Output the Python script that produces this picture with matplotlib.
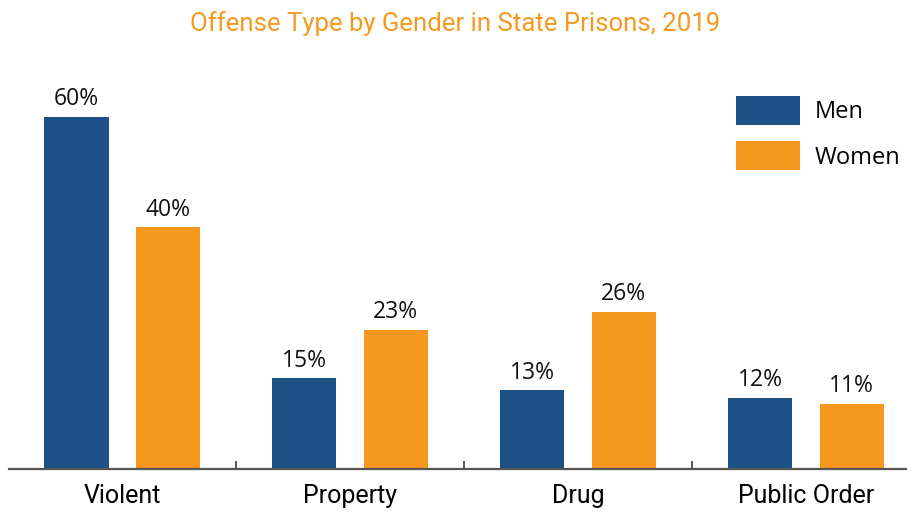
import matplotlib
matplotlib.use("Agg")
import matplotlib.pyplot as plt
import numpy as np

categories = ["Violent", "Property", "Drug", "Public Order"]
men = [58.3, 15.0, 13.0, 11.8]
women = [40.0, 23.0, 26.0, 10.8]
men_labels = ["60%", "15%", "13%", "12%"]
women_labels = ["40%", "23%", "26%", "11%"]

blue = "#1F5189"
orange = "#F7991E"

fig = plt.figure(figsize=(9.07, 5.16), dpi=100)
ax = fig.add_axes([9 / 907, 47 / 516, 898 / 907, 408 / 516])

x = np.arange(len(categories))
w = 0.281
off = 0.2
b1 = ax.bar(x - off, men, width=w, color=blue, label="Men")
b2 = ax.bar(x + off, women, width=w, color=orange, label="Women")

for bars, labs in ((b1, men_labels), (b2, women_labels)):
    for r, t in zip(bars, labs):
        ax.annotate(t, (r.get_x() + r.get_width() / 2, r.get_height()),
                    xytext=(0, 4), textcoords="offset points",
                    ha="center", va="bottom", fontsize=16.5,
                    family=["Open Sans", "DejaVu Sans"], color="#111111")

ax.set_xlim(-0.496, 3.443)
ax.set_ylim(0, 67.5)
ax.set_yticks([])
for s in ("top", "right", "left"):
    ax.spines[s].set_visible(False)
ax.spines["bottom"].set_color("#555555")
ax.spines["bottom"].set_linewidth(1.6)

ax.set_xticks(x)
ax.set_xticklabels(categories, fontsize=18, family=["Roboto", "DejaVu Sans"])
ax.tick_params(axis="x", which="major", length=0, pad=11)
ax.set_xticks([0.5, 1.5, 2.5], minor=True)
ax.tick_params(axis="x", which="minor", direction="in", length=6,
               width=1.4, color="#555555")

ax.legend(loc="upper right", bbox_to_anchor=(900 / 907, 1 - 96 / 516),
          bbox_transform=fig.transFigure, frameon=False, borderpad=0,
          borderaxespad=0, handlelength=2.7, handleheight=1.52,
          labelspacing=0.68, handletextpad=0.62,
          prop={"family": ["Open Sans", "DejaVu Sans"], "size": 17})

fig.text(0.502, 0.955, "Offense Type by Gender in State Prisons, 2019",
         ha="center", va="center", fontsize=18.5, color=orange,
         family=["Roboto", "DejaVu Sans"])

fig.savefig("out.png", dpi=100)
